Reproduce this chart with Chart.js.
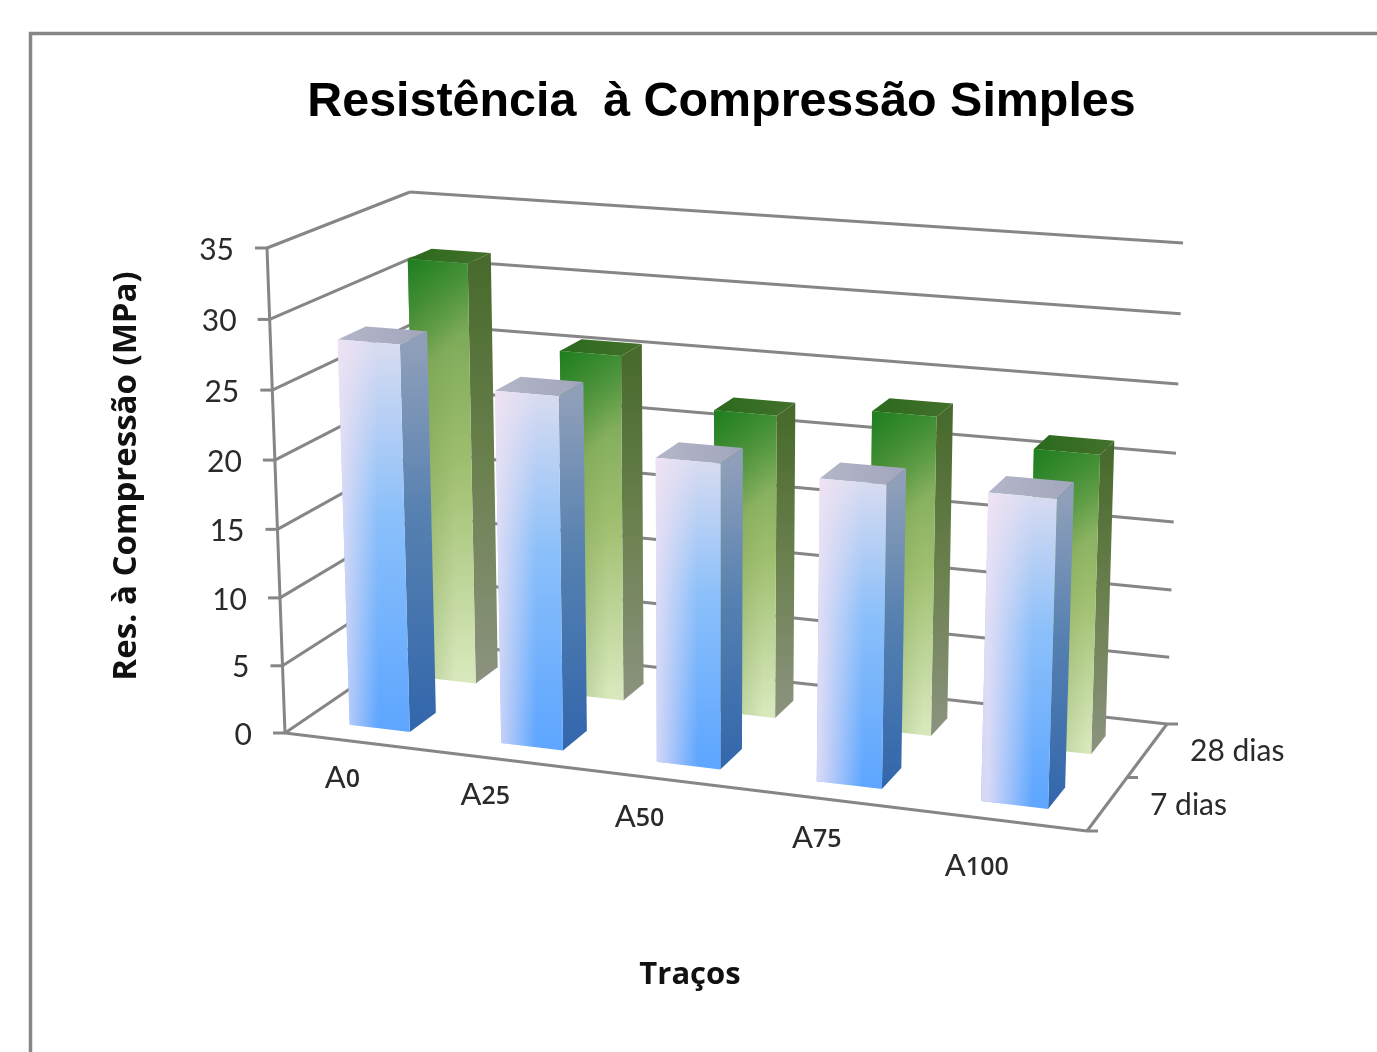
<!DOCTYPE html>
<html lang="pt">
<head>
<meta charset="utf-8">
<title>Resistência à Compressão Simples</title>
<script src="https://cdn.jsdelivr.net/npm/chart.js@4"></script>
<style>
  html, body { margin: 0; background: #fff; overflow: hidden; }
  canvas { display: block; }
</style>
</head>
<body>
<canvas id="resChart" width="1377" height="1052"></canvas>
<script>
// Data
const tracos = ['A0', 'A25', 'A50', 'A75', 'A100'];
const idades = ['7 dias', '28 dias'];
const res7dias = [28.2, 25.5, 21.8, 21.4, 21.5];
const res28dias = [31.7, 25.8, 22.4, 23.3, 21.6];
const valueTicks = [0, 5, 10, 15, 20, 25, 30, 35];

// Corners of the 3D box on the page
const box = {
  flb: [285, 733], flt: [267, 248], frb: [1087, 831], frt: [1104, 311],
  blb: [420, 641], blt: [410, 192], brb: [1167, 724], brt: [1183, 243]
};
const xPerspective = 0.07;
const vPerspective = 0.036;
const rowDepth = [0.204, 0.172];
const gridColor = '#868686';
const labelNudge = [[-18, 36], [-29, 34], [-33, 37], [-18, 38], [-25, 45]];

const faces = [
  { // blue row
    front: [[0, '#dadcf0'], [0.45, '#8cc0fa'], [1, '#5ea6ff']],
    glow: [[0, 'rgba(244,228,244,0.8)'], [0.65, 'rgba(244,228,244,0)']],
    corner: null,
    side: [[0, '#8f9fba'], [0.45, '#5580b0'], [1, '#3266ac']],
    top: ['#b4b6c8', '#a2a6bd']
  },
  { // green row
    front: [[0, '#6ba04c'], [0.5, '#a0bf70'], [1, '#d8e8bc']],
    glow: [[0, 'rgba(110,150,70,0.5)'], [0.8, 'rgba(110,150,70,0)']],
    corner: [[0, 'rgba(25,125,30,0.95)'], [1, 'rgba(25,125,30,0)']],
    side: [[0, '#486a2c'], [0.5, '#6c8150'], [1, '#8c9380']],
    top: ['#2a6a1c', '#44702c']
  }
];

const lerp = (a, b, t) => [a[0] + (b[0] - a[0]) * t, a[1] + (b[1] - a[1]) * t];

// u along the categories, v up the values, w into the depth
function project(u, v, w) {
  const uu = u / (1 + xPerspective * (1 - u));
  const vv = v / (1 + vPerspective * (1 - v));
  const bottom = lerp(lerp(box.flb, box.frb, uu), lerp(box.blb, box.brb, uu), w);
  const top = lerp(lerp(box.flt, box.frt, uu), lerp(box.blt, box.brt, uu), w);
  return lerp(bottom, top, vv);
}

function line(ctx, a, b) {
  ctx.beginPath();
  ctx.moveTo(a[0], a[1]);
  ctx.lineTo(b[0], b[1]);
  ctx.stroke();
}

function gradient(ctx, x0, y0, x1, y1, stops) {
  const g = ctx.createLinearGradient(x0, y0, x1, y1);
  stops.forEach(s => g.addColorStop(s[0], s[1]));
  return g;
}

function fillPoly(ctx, pts, fill) {
  ctx.beginPath();
  pts.forEach((p, i) => i ? ctx.lineTo(p[0], p[1]) : ctx.moveTo(p[0], p[1]));
  ctx.closePath();
  ctx.fillStyle = fill;
  ctx.fill();
}

const chart3d = {
  id: 'chart3d',
  beforeDatasetsDraw(chart) {
    const ctx = chart.ctx;
    const yScale = chart.scales.y;
    const zScale = chart.scales.z;
    const vOf = val => (yScale.bottom - yScale.getPixelForValue(val)) / yScale.height;
    const wOf = idx => (zScale.getPixelForValue(idx) - zScale.left) / zScale.width;

    ctx.save();
    // outer frame, runs off the right and bottom of the page
    ctx.strokeStyle = gridColor;
    ctx.lineWidth = 3.5;
    ctx.beginPath();
    ctx.moveTo(30.5, 1060);
    ctx.lineTo(30.5, 33.5);
    ctx.lineTo(1385, 33.5);
    ctx.stroke();

    // walls and value axis
    ctx.lineWidth = 3;
    valueTicks.forEach(t => {
      const v = vOf(t);
      const a = project(0, v, 0), b = project(0, v, 1), c = project(1, v, 1);
      line(ctx, a, b);
      line(ctx, b, c);
      line(ctx, a, [a[0] - 12, a[1]]);
    });
    line(ctx, project(0, 0, 0), project(0, 1, 0));

    // floor edges and depth ticks
    line(ctx, project(0, 0, 0), project(1, 0, 0));
    line(ctx, project(1, 0, 0), project(1, 0, 1));
    for (let i = 0; i <= idades.length; i++) {
      const p = project(1, 0, wOf(i - 0.5));
      line(ctx, p, [p[0] + 11, p[1]]);
    }
    ctx.restore();
  },
  afterDatasetsDraw(chart) {
    const ctx = chart.ctx;
    const xScale = chart.scales.x;
    const yScale = chart.scales.y;
    const zScale = chart.scales.z;
    const uOf = px => (px - xScale.left) / xScale.width;
    const vOf = px => (yScale.bottom - px) / yScale.height;
    const wOf = idx => (zScale.getPixelForValue(idx) - zScale.left) / zScale.width;

    // back row first so the front row covers it
    [1, 0].forEach(d => {
      const f = faces[d];
      const w0 = wOf(d) - rowDepth[d] / 2, w1 = wOf(d) + rowDepth[d] / 2;
      chart.getDatasetMeta(d).data.forEach(bar => {
        const u0 = uOf(bar.x - bar.width / 2), u1 = uOf(bar.x + bar.width / 2);
        const v0 = vOf(bar.base), v1 = vOf(bar.y);
        const a = project(u0, v0, w0), b = project(u1, v0, w0);
        const c = project(u1, v1, w0), e = project(u0, v1, w0);
        const g = project(u1, v0, w1), h = project(u1, v1, w1), k = project(u0, v1, w1);

        fillPoly(ctx, [e, k, h, c], gradient(ctx, e[0], 0, h[0], 0, [[0, f.top[0]], [1, f.top[1]]]));
        fillPoly(ctx, [b, g, h, c], gradient(ctx, 0, c[1], 0, b[1], f.side));

        const front = [a, b, c, e];
        fillPoly(ctx, front, gradient(ctx, 0, e[1], 0, a[1], f.front));
        fillPoly(ctx, front, gradient(ctx, e[0], 0, c[0], 0, f.glow));
        if (f.corner) {
          const size = c[0] - e[0];
          fillPoly(ctx, front, gradient(ctx, e[0], e[1], e[0] + size, e[1] + size * 1.2, f.corner));
        }
      });
    });

    // text around the box
    ctx.save();
    ctx.fillStyle = '#2a2a2a';
    ctx.textBaseline = 'middle';
    ctx.font = '30px Lato';
    ctx.textAlign = 'right';
    valueTicks.forEach(t => {
      const p = project(0, vOf(yScale.getPixelForValue(t)), 0);
      ctx.fillText(String(t), p[0] - 33, p[1] + 2);
    });

    ctx.textAlign = 'left';
    idades.forEach((lab, i) => {
      const p = project(1, 0, wOf(i));
      ctx.fillText(lab, p[0] + 43, p[1] + 1);
    });

    // category names: big letter, small digits
    const letterFont = '31px Lato';
    const digitFont = '600 25px "Open Sans"';
    tracos.forEach((lab, i) => {
      const p = project(uOf(xScale.getPixelForValue(i)), 0, 0);
      const letter = lab[0], digits = lab.slice(1);
      ctx.font = letterFont;
      const lw = ctx.measureText(letter).width;
      ctx.font = digitFont;
      const dw = ctx.measureText(digits).width;
      const left = p[0] + labelNudge[i][0] - (lw + dw) / 2;
      const y = p[1] + labelNudge[i][1];
      ctx.font = letterFont;
      ctx.fillText(letter, left, y);
      ctx.font = digitFont;
      ctx.fillText(digits, left + lw, y + 2);
    });

    ctx.fillStyle = '#111';
    ctx.textAlign = 'center';
    ctx.font = 'bold 31px "Open Sans"';
    ctx.fillText('Traços', 690, 975);
    ctx.font = 'bold 33px "Open Sans"';
    ctx.translate(127, 476);
    ctx.rotate(-Math.PI / 2);
    ctx.fillText('Res. à Compressão (MPa)', 0, 0);
    ctx.restore();
  }
};

const ctxRes = document.getElementById('resChart').getContext('2d');
new Chart(ctxRes, {
  type: 'bar',
  plugins: [chart3d],
  data: {
    labels: tracos,
    datasets: [
      { label: idades[0], data: res7dias, backgroundColor: 'rgba(0,0,0,0)' },
      { label: idades[1], data: res28dias, backgroundColor: 'rgba(0,0,0,0)' }
    ]
  },
  options: {
    responsive: false,
    animation: false,
    grouped: false,
    barPercentage: 0.4,
    categoryPercentage: 1,
    layout: { padding: { left: 66 } },
    plugins: {
      legend: { display: false },
      tooltip: { enabled: false },
      title: {
        display: true,
        text: 'Resistência  à Compressão Simples',
        color: '#000',
        font: { family: '"Liberation Sans"', size: 48.4, weight: 'bold' },
        padding: { top: 74, bottom: 20 }
      }
    },
    scales: {
      x: { display: false },
      y: { display: false, min: 0, max: 35 },
      z: { type: 'category', axis: 'x', position: 'bottom', labels: idades, offset: true, display: false }
    }
  }
});
</script>
</body>
</html>
